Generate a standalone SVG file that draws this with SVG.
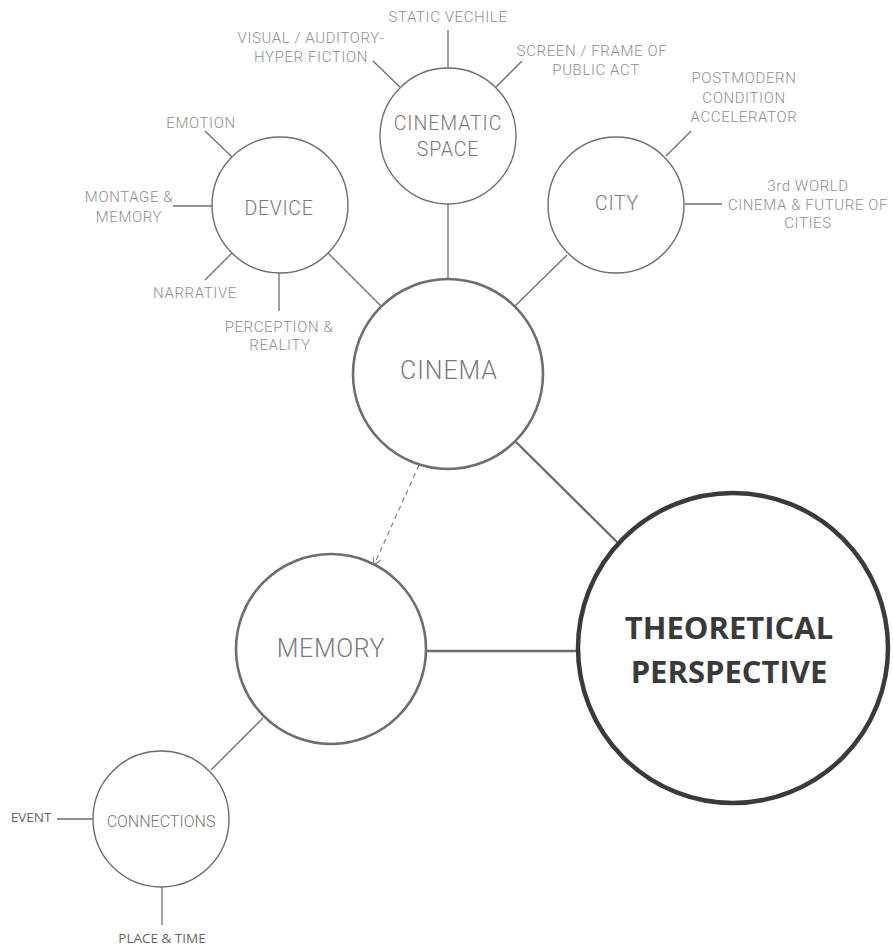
<svg xmlns="http://www.w3.org/2000/svg" width="893" height="946" viewBox="0 0 893 946">
<style>
.lbl{font-family:Roboto,"Liberation Sans",sans-serif;font-size:15px;font-weight:300;letter-spacing:0.6px;fill:#8f8f8f;text-anchor:middle}
.lbl2{font-family:"Open Sans","Liberation Sans",sans-serif;font-size:13.5px;fill:#666;text-anchor:middle}
.nt{font-family:Roboto,"Liberation Sans",sans-serif;fill:#7a7a7a;text-anchor:middle;font-weight:300}
.sm{fill:#fff;stroke:#6e6e6e;stroke-width:1.4}
.md{fill:#fff;stroke:#6e6e6e;stroke-width:2.6}
.lg{fill:#fff;stroke:#3a3a3a;stroke-width:4.5}
.ln{stroke:#6e6e6e;stroke-width:1.3;fill:none}
.lnb{stroke:#6e6e6e;stroke-width:2.4;fill:none}
</style>
<defs>
<marker id="arr" markerWidth="10" markerHeight="10" refX="8" refY="5" orient="auto" markerUnits="userSpaceOnUse">
<path d="M1,1 L8,5 L1,9" fill="none" stroke="#777" stroke-width="1"/>
</marker>
</defs>
<g id="connectors">
<line class="ln" x1="448" y1="30" x2="448" y2="68"/>
<line class="ln" x1="373" y1="61" x2="400" y2="87"/>
<line class="ln" x1="522" y1="61" x2="496" y2="87"/>
<line class="ln" x1="448" y1="204" x2="448" y2="280"/>
<line class="ln" x1="205" y1="131" x2="232" y2="157"/>
<line class="ln" x1="173" y1="206" x2="212" y2="206"/>
<line class="ln" x1="205" y1="280" x2="232" y2="253"/>
<line class="ln" x1="279" y1="273" x2="279" y2="311"/>
<line class="ln" x1="328" y1="253" x2="381" y2="306"/>
<line class="ln" x1="567" y1="255" x2="515" y2="306"/>
<line class="ln" x1="666" y1="156" x2="691" y2="131"/>
<line class="ln" x1="685" y1="204" x2="722" y2="204"/>
<line class="lnb" x1="516" y1="442" x2="620" y2="545"/>
<line class="lnb" x1="426" y1="651" x2="578" y2="651"/>
<line x1="419" y1="465" x2="374" y2="565" stroke="#777" stroke-width="1.1" stroke-dasharray="5,4" marker-end="url(#arr)"/>
<line class="ln" x1="263" y1="718" x2="211" y2="770"/>
<line class="ln" x1="57" y1="819" x2="93" y2="819"/>
<line class="ln" x1="162" y1="887" x2="162" y2="925"/>
</g>
<g id="labels">
<text class="lbl" x="448" y="22">STATIC VECHILE</text>
<text class="lbl" x="311" y="43">VISUAL / AUDITORY-</text>
<text class="lbl" x="311" y="62">HYPER FICTION</text>
<text class="lbl" x="592" y="56">SCREEN / FRAME OF</text>
<text class="lbl" x="596" y="75">PUBLIC ACT</text>
<text class="lbl" x="201" y="128">EMOTION</text>
<text class="lbl" x="129" y="202">MONTAGE &amp;</text>
<text class="lbl" x="129" y="222">MEMORY</text>
<text class="lbl" x="195" y="298">NARRATIVE</text>
<text class="lbl" x="279" y="332">PERCEPTION &amp;</text>
<text class="lbl" x="280" y="350">REALITY</text>
<text class="lbl" x="744" y="83">POSTMODERN</text>
<text class="lbl" x="744" y="103">CONDITION</text>
<text class="lbl" x="744" y="122">ACCELERATOR</text>
<text class="lbl" x="808" y="191">3rd WORLD</text>
<text class="lbl" x="808" y="210">CINEMA &amp; FUTURE OF</text>
<text class="lbl" x="808" y="228">CITIES</text>
<text class="lbl2" x="31" y="822">EVENT</text>
<text class="lbl2" x="162" y="943">PLACE &amp; TIME</text>
</g>
<g id="cinematic-space">
<circle class="sm" cx="448" cy="136" r="68"/>
<text class="nt" x="448" y="130" font-size="19.5" letter-spacing="0.9">CINEMATIC</text>
<text class="nt" x="448" y="156" font-size="19.5" letter-spacing="0.9">SPACE</text>
</g>
<g id="device">
<circle class="sm" cx="280" cy="205" r="68"/>
<text class="nt" x="279" y="215" font-size="19.5" letter-spacing="0.7">DEVICE</text>
</g>
<g id="city">
<circle class="sm" cx="616" cy="205" r="68"/>
<text class="nt" x="617" y="210" font-size="19.5" letter-spacing="0.7">CITY</text>
</g>
<g id="cinema">
<circle class="md" cx="448" cy="374" r="95"/>
<text class="nt" x="449" y="379" font-size="25" letter-spacing="0.9">CINEMA</text>
</g>
<g id="memory">
<circle class="md" cx="331" cy="649" r="95"/>
<text class="nt" x="331" y="657" font-size="25" letter-spacing="0.6">MEMORY</text>
</g>
<g id="theoretical-perspective">
<circle class="lg" cx="733" cy="648" r="155"/>
<text x="729" y="639" font-family="'Open Sans','Liberation Sans',sans-serif" font-weight="bold" font-size="31" fill="#3a3a3a" text-anchor="middle">THEORETICAL</text>
<text x="729" y="683" font-family="'Open Sans','Liberation Sans',sans-serif" font-weight="bold" font-size="31" fill="#3a3a3a" text-anchor="middle">PERSPECTIVE</text>
</g>
<g id="connections">
<circle class="sm" cx="161" cy="819" r="68"/>
<text class="nt" x="161" y="827" font-size="16">CONNECTIONS</text>
</g>
</svg>
